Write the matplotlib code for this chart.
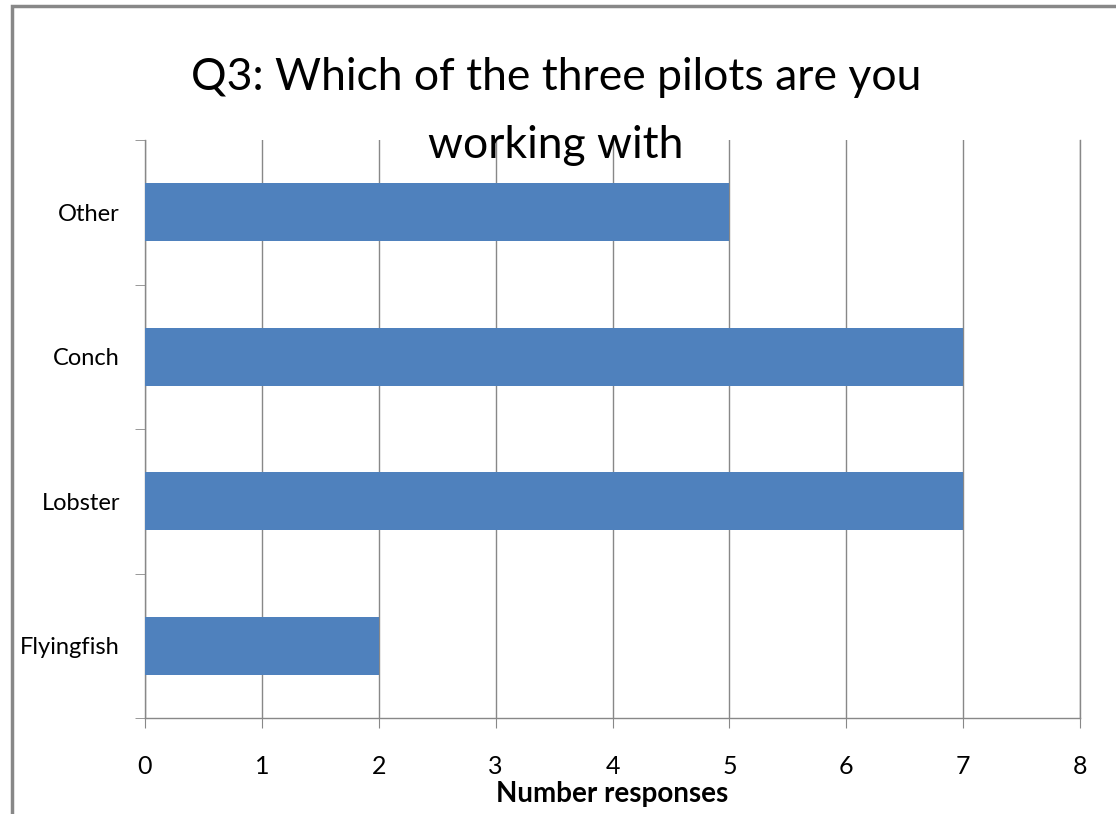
import matplotlib
matplotlib.use("Agg")
import matplotlib.pyplot as plt
from matplotlib.patches import Rectangle
from matplotlib.ticker import FixedLocator

categories = ["Flyingfish", "Lobster", "Conch", "Other"]
values = [2, 7, 7, 5]
xticks = [0, 1, 2, 3, 4, 5, 6, 7, 8]
title_lines = ["Q3: Which of the three pilots are you", "working with"]
xlabel = "Number responses"

plt.rcParams['font.family'] = ['Lato', 'DejaVu Sans']

W, H = 1116, 814
fig = plt.figure(figsize=(W / 100, H / 100), dpi=100)
ax = fig.add_axes([145/W, 96/H, 935/W, 578/H])

ypos = list(range(len(categories)))
ax.barh(ypos, values, height=0.4, color="#4F81BD", zorder=3)
ax.set_xlim(0, 8)
ax.set_ylim(-0.5, len(categories) - 0.5)
ax.set_xticks(xticks)
ax.set_xticklabels([str(t) for t in xticks], fontsize=18)
ax.set_yticks(ypos)
ax.set_yticklabels(categories, fontsize=17)
ax.yaxis.set_minor_locator(FixedLocator([i - 0.5 for i in range(len(categories) + 1)]))
ax.tick_params(axis='y', which='major', length=0, pad=18)
ax.tick_params(axis='y', which='minor', length=7, color="#888888", direction='out')
ax.tick_params(axis='x', which='major', length=7, color="#888888", direction='out', pad=20)
ax.xaxis.grid(True, color="#888888", linewidth=1.0, zorder=0)
ax.yaxis.grid(False)
ax.spines['top'].set_visible(False)
for s in ['left', 'bottom', 'right']:
    ax.spines[s].set_color("#888888")
    ax.spines[s].set_linewidth(1.0)
ax.set_xlabel(xlabel, fontsize=20, fontweight='bold', labelpad=2)

baselines = [90, 158]
for line, yb in zip(title_lines, baselines):
    fig.text(556/W, 1 - yb/H, line, ha='center', va='baseline', fontsize=32, zorder=5)

fig.patches.append(Rectangle((12/W, -0.1), 1.2, 1.1 - 6/H, transform=fig.transFigure,
                             fill=False, edgecolor="#888888", linewidth=2.5))

fig.savefig("out.png", dpi=100)
